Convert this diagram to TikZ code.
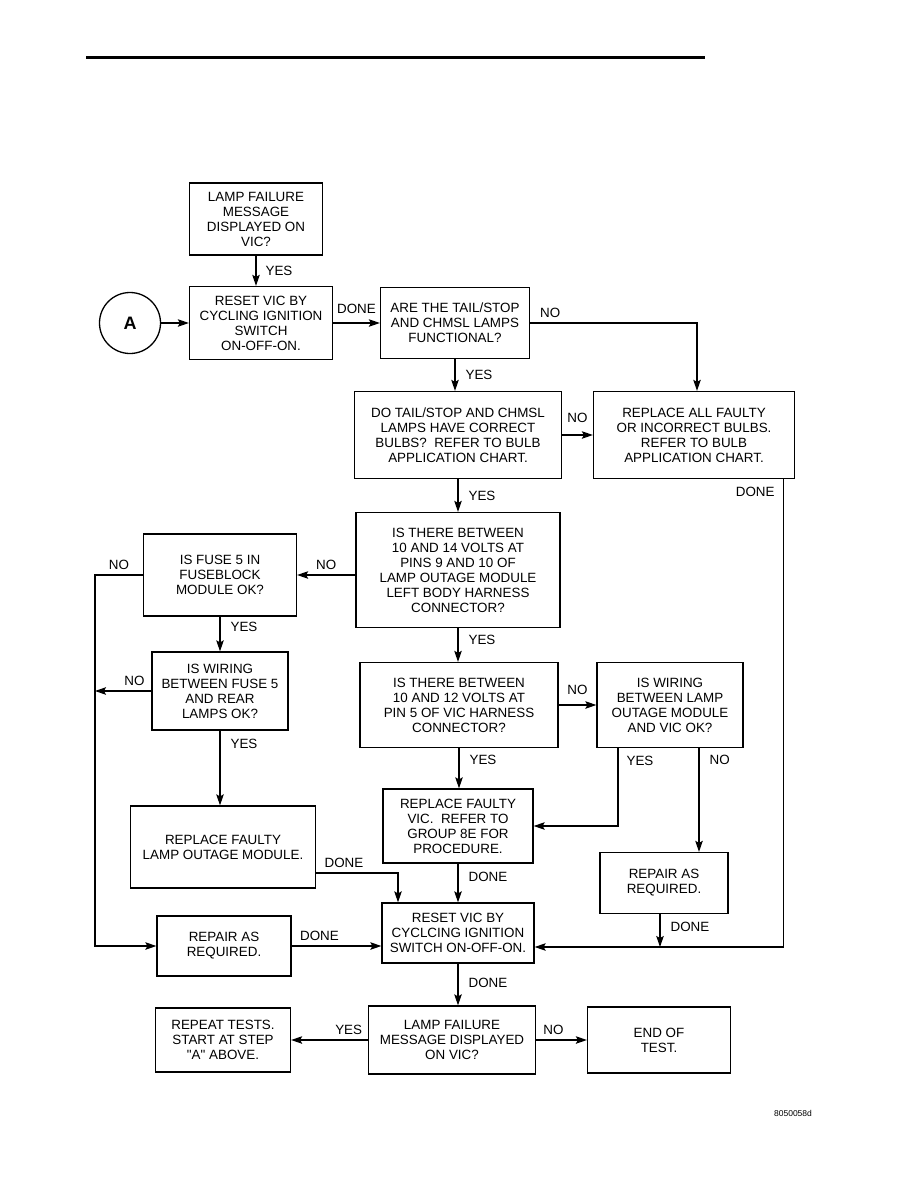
\documentclass[tikz,border=0pt]{standalone}
\usepackage{fontspec}
\setmainfont{Liberation Sans}[Ligatures=TeXOff]
\usetikzlibrary{arrows.meta,positioning}
\begin{document}
\begin{tikzpicture}[x=1pt, y=-1pt, >={Stealth[length=11pt,width=7.5pt,inset=2pt]}, line width=1.2pt,
	box/.style={draw, line width=1.3pt, align=center, inner sep=2pt, font=\fontsize{13.4}{15}\selectfont},
	lbl/.style={inner sep=1pt, font=\fontsize{13.4}{15}\selectfont}]
	\useasboundingbox (0,0) rectangle (918,1188);
	% 1. 页眉线
	\draw[line width=3pt] (86,58) -- (705,58);
	
	% 2. 上部: 起点与灯泡检查
	\node[box, minimum width=133pt, minimum height=72pt] (fail1) at (256,219) {LAMP FAILURE\\MESSAGE\\DISPLAYED ON\\VIC?};
	\node[box, minimum width=143pt, minimum height=73pt] (reset1) at (261,323) {RESET VIC BY\\CYCLING IGNITION\\SWITCH\\ON-OFF-ON.};
	\node[draw, circle, line width=1.3pt, minimum size=61pt, inner sep=0pt, font=\bfseries\fontsize{18}{18}\selectfont] (stepA) at (130,323) {A};
	\node[box, minimum width=149pt, minimum height=71pt] (arethe) at (455,323) {ARE THE TAIL/STOP\\AND CHMSL LAMPS\\FUNCTIONAL?};
	\node[box, minimum width=207pt, minimum height=87pt] (dotail) at (458,435) {DO TAIL/STOP AND CHMSL\\LAMPS HAVE CORRECT\\BULBS?~~REFER TO BULB\\APPLICATION CHART.};
	\node[box, minimum width=201pt, minimum height=87pt] (replall) at (694,435) {REPLACE ALL FAULTY\\OR INCORRECT BULBS.\\REFER TO BULB\\APPLICATION CHART.};
	
	% 3. 中部: 电压与线路检查
	\node[box, minimum width=204pt, minimum height=115pt] (volt14) at (458,570) {IS THERE BETWEEN\\10 AND 14 VOLTS AT\\PINS 9 AND 10 OF\\LAMP OUTAGE MODULE\\LEFT BODY HARNESS\\CONNECTOR?};
	\node[box, minimum width=153pt, minimum height=82pt] (fuse5) at (220,575) {IS FUSE 5 IN\\FUSEBLOCK\\MODULE OK?};
	\node[box, minimum width=136pt, minimum height=78pt] (wirefuse) at (220,691) {IS WIRING\\BETWEEN FUSE 5\\AND REAR\\LAMPS OK?};
	\node[box, minimum width=198pt, minimum height=85pt] (volt12) at (459,705) {IS THERE BETWEEN\\10 AND 12 VOLTS AT\\PIN 5 OF VIC HARNESS\\CONNECTOR?};
	\node[box, minimum width=146pt, minimum height=85pt] (wirevic) at (670,705) {IS WIRING\\BETWEEN LAMP\\OUTAGE MODULE\\AND VIC OK?};
	\node[box, minimum width=150pt, minimum height=74pt] (replvic) at (458,826) {REPLACE FAULTY\\VIC.~~REFER TO\\GROUP 8E FOR\\PROCEDURE.};
	\node[box, minimum width=128pt, minimum height=61pt] (repairR) at (664,883) {REPAIR AS\\REQUIRED.};
	\node[box, minimum width=185pt, minimum height=82pt] (repllom) at (223,847) {REPLACE FAULTY\\LAMP OUTAGE MODULE.};
	
	% 4. 下部: 复位与结束
	\node[box, minimum width=152pt, minimum height=60pt] (reset2) at (458,933) {RESET VIC BY\\CYCLCING IGNITION\\SWITCH ON-OFF-ON.};
	\node[box, minimum width=134pt, minimum height=60pt] (repairL) at (224,946) {REPAIR AS\\REQUIRED.};
	\node[box, minimum width=167pt, minimum height=68pt] (fail2) at (452,1040) {LAMP FAILURE\\MESSAGE DISPLAYED\\ON VIC?};
	\node[box, minimum width=135pt, minimum height=64pt] (rpt) at (223,1040) {REPEAT TESTS.\\START AT STEP\\"A" ABOVE.};
	\node[box, minimum width=143pt, minimum height=66pt] (endtest) at (659,1040) {END OF\\TEST.};
	\node[font=\fontsize{8.5}{9}\selectfont] (figid) at (793,1113) {8050058d};
	
	% 5. 连线 (左侧总线与右侧回线用命名坐标)
	\coordinate (lefttop) at (95,575);
	\coordinate (doneR) at ([yshift=-14pt]reset2.east);
	\draw[->] (fail1.south) -- (fail1.south |- reset1.north) node[lbl, midway, right=8pt] (yes1) {YES};
	\draw[->] (stepA.east) -- (reset1.west);
	\draw[->] (reset1.east) -- (arethe.west) node[lbl, midway, above=8pt] (done1) {DONE};
	\draw[->] (arethe.east) -| ([xshift=3pt]replall.north) node[lbl, pos=0.06, above=4pt] (no1) {NO};
	\draw[->] (arethe.south) -- (arethe.south |- dotail.north) node[lbl, midway, right=9pt] (yes2) {YES};
	\draw[->] (dotail.east) -- (replall.west) node[lbl, midway, above=11pt] (no2) {NO};
	\draw[->] (dotail.south) -- (dotail.south |- volt14.north) node[lbl, midway, right=9pt] (yes3) {YES};
	\draw[->] ([xshift=-12pt]replall.south east) |- (doneR) node[lbl, pos=0.014, left=7pt] (done5) {DONE};
	\draw[->] ([yshift=-5pt]volt14.west) -- (fuse5.east) node[lbl, midway, above=4pt] (no3) {NO};
	\draw[->] (fuse5.west) -- (lefttop) node[lbl, midway, above=4pt] (no4) {NO} |- (repairL.west);
	\draw[->] (fuse5.south) -- (fuse5.south |- wirefuse.north) node[lbl, pos=0.3, right=9pt] (yes4) {YES};
	\draw[->] (wirefuse.west) -- (wirefuse.west -| lefttop) node[lbl, pos=0.3, above=4pt] (no5) {NO};
	\draw[->] (wirefuse.south) -- (wirefuse.south |- repllom.north) node[lbl, pos=0.18, right=9pt] (yes5) {YES};
	\draw[->] (volt14.south) -- (volt14.south |- volt12.north) node[lbl, pos=0.35, right=9pt] (yes6) {YES};
	\draw[->] (volt12.east) -- (wirevic.west) node[lbl, midway, above=9pt] (no6) {NO};
	\draw[->] (volt12.south) -- (volt12.south |- replvic.north) node[lbl, pos=0.3, right=9pt] (yes7) {YES};
	\draw[->] ([xshift=-52pt]wirevic.south) |- (replvic.east) node[lbl, pos=0.08, right=7pt] (yes8) {YES};
	\draw[->] ([xshift=29pt]wirevic.south) -- ([xshift=29pt]wirevic.south |- repairR.north) node[lbl, pos=0.11, right=9pt] (no7) {NO};
	\draw[->] (replvic.south) -- (replvic.south |- reset2.north) node[lbl, pos=0.33, right=9pt] (done2) {DONE};
	\draw[->] ([yshift=-26pt]repllom.east) -| ([xshift=-60pt]reset2.north) node[lbl, pos=0.17, above=4pt] (done3) {DONE};
	\draw[->] (repairL.east) -- (repairL.east -| reset2.west) node[lbl, pos=0.31, above=4pt] (done4) {DONE};
	\draw[->] ([xshift=-4pt]repairR.south) -- ([xshift=-4pt]repairR.south |- doneR) node[lbl, pos=0.4, right=9pt] (done6) {DONE};
	\draw[->] (reset2.south) -- (reset2.south |- fail2.north) node[lbl, pos=0.45, right=9pt] (done7) {DONE};
	\draw[->] (fail2.west) -- (rpt.east) node[lbl, pos=0.25, above=4pt] (yes9) {YES};
	\draw[->] (fail2.east) -- (endtest.west) node[lbl, pos=0.34, above=4pt] (no8) {NO};
\end{tikzpicture}
\end{document}
